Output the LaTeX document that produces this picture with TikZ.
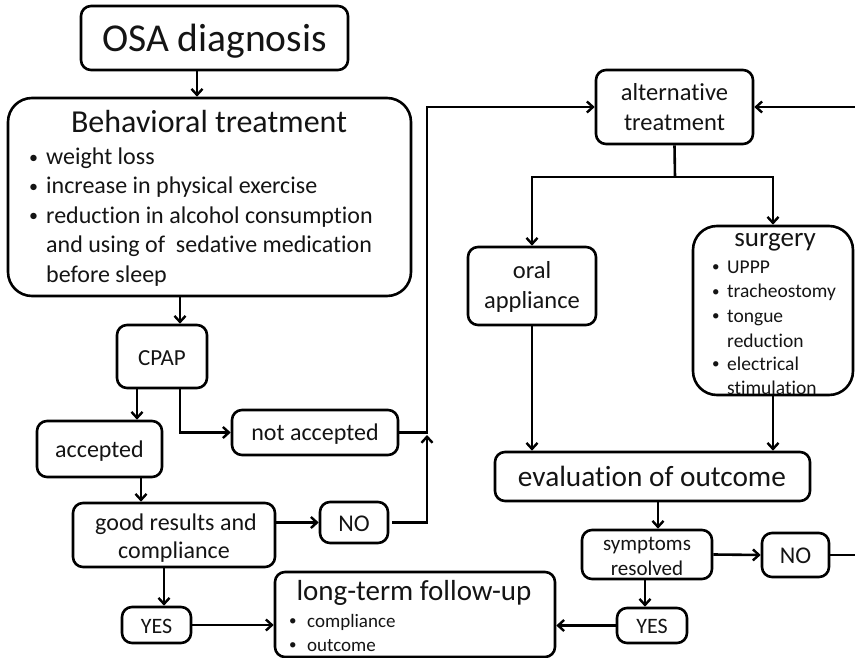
\documentclass[tikz,border=0pt]{standalone}
\usepackage{fontspec}
\setmainfont{Carlito}[Ligatures=NoCommon]
\usetikzlibrary{arrows.meta,calc}
\newcommand{\fz}[1]{\fontsize{#1}{#1}\selectfont}
\tikzset{
  box/.style={draw, line width=2.6pt, rounded corners=10pt, inner sep=0pt, anchor=center},
  bigbox/.style={box, rounded corners=24pt},
  ln/.style={line width=2.6pt},
  arr/.style={line width=2.6pt, -{Straight Barb[length=6pt,width=11pt,line width=2.4pt]}},
  txt/.style={anchor=base, inner sep=0pt, text=black!92},
  lft/.style={anchor=base west, inner sep=0pt, text=black!92},
}
% name, x bullet, x text, baseline, size, bullet size, text
\newcommand{\bul}[7]{\node[lft,font=\fz{#6},yshift=1.8pt] (#1d) at (#2,#4) {•};\node[lft,font=\fz{#5}] (#1) at (#3,#4) {#7};}
\begin{document}
\begin{tikzpicture}[x=1pt,y=-1pt]
\useasboundingbox (0,0) rectangle (855,658);
\clip (0,0) rectangle (855,658);
% helper x positions
\coordinate (x197) at (197,0);
\coordinate (x180) at (180,0);
\coordinate (x137) at (137,0);
\coordinate (x141) at (141,0);
\coordinate (x164) at (164,0);
\coordinate (x658) at (658,0);
\coordinate (x645) at (645,0);
\coordinate (vline) at (427,0);
\coordinate (re) at (862,0);
\coordinate (br) at (675,177);

% ---------- boxes ----------
\node[box, minimum width=267, minimum height=64] (osa) at (214.5,38) {};
\node[txt, font=\fz{39.5}] (osat) at (214.5,52) {OSA diagnosis};

\node[bigbox, minimum width=403, minimum height=198] (beh) at (209.5,197) {};
\node[txt, font=\fz{32}] (beht) at (209,133) {Behavioral treatment};
\bul{b1}{29}{46}{165}{24}{18}{weight loss}
\bul{b2}{29}{46}{194}{24}{18}{increase in physical exercise}
\bul{b3}{29}{46}{223}{24}{18}{reduction in alcohol consumption}
\node[lft, font=\fz{24}] (b4) at (46,252) {and using of~ sedative medication};
\node[lft, font=\fz{24}] (b5) at (46,282) {before sleep};

\node[box, minimum width=90, minimum height=63] (cpap) at (162,356.5) {};
\node[txt, font=\fz{23}] (cpapt) at (162,365) {CPAP};

\node[box, minimum width=125, minimum height=56] (acc) at (99.5,449) {};
\node[txt, font=\fz{24}] (acct) at (99.5,457) {accepted};

\node[box, minimum width=166, minimum height=45] (nacc) at (315,432.5) {};
\node[txt, font=\fz{24}] (nacct) at (315,440) {not accepted};

\node[box, minimum width=202, minimum height=64] (good) at (174,535) {};
\node[txt, font=\fz{24}] (goodt1) at (176,530) {good results and};
\node[txt, font=\fz{24}] (goodt2) at (174,558) {compliance};

\node[box, minimum width=68, minimum height=41] (no1) at (354,522.5) {};
\node[txt, font=\fz{24}] (no1t) at (354,531) {NO};

\node[box, minimum width=69, minimum height=36] (yes1) at (156.5,625) {};
\node[txt, font=\fz{22}] (yes1t) at (156.5,633) {YES};

\node[box, minimum width=280, minimum height=85] (lt) at (415,614.5) {};
\node[txt, font=\fz{29}] (ltt) at (414,600) {long-term follow-up};
\bul{l1}{289}{307}{627}{19}{15}{compliance}
\bul{l2}{289}{307}{651}{19}{15}{outcome}

\node[box, minimum width=157, minimum height=74] (alt) at (674.5,107) {};
\node[txt, font=\fz{24.5}] (altt1) at (674.5,101) {alternative};
\node[txt, font=\fz{24.5}] (altt2) at (674.5,131) {treatment};

\node[box, minimum width=128, minimum height=78] (oral) at (532,286) {};
\node[txt, font=\fz{24.5}] (oralt1) at (532,278) {oral};
\node[txt, font=\fz{24.5}] (oralt2) at (532,308) {appliance};

\node[bigbox, minimum width=160, minimum height=169] (surg) at (773,310.5) {};
\node[txt, font=\fz{27}] (surgt) at (775,247) {surgery};
\bul{s1}{712}{727}{273}{19.5}{15}{UPPP}
\bul{s2}{712}{727}{298}{19.5}{15}{tracheostomy}
\bul{s3}{712}{727}{322}{19.5}{15}{tongue}
\node[lft, font=\fz{19.5}] (s4) at (727,347) {reduction};
\bul{s5}{712}{727}{370}{19.5}{15}{electrical}
\node[lft, font=\fz{19.5}] (s6) at (727,394) {stimulation};

\node[box, minimum width=315, minimum height=49] (eval) at (652.5,476.5) {};
\node[txt, font=\fz{29.3}] (evalt) at (652,486) {evaluation of outcome};

\node[box, minimum width=130, minimum height=49] (symp) at (647,554.5) {};
\node[txt, font=\fz{21}] (sympt1) at (647,550) {symptoms};
\node[txt, font=\fz{21}] (sympt2) at (647,575) {resolved};

\node[box, minimum width=67, minimum height=44] (no2) at (795.5,555) {};
\node[txt, font=\fz{24}] (no2t) at (795.5,563) {NO};

\node[box, minimum width=70, minimum height=35] (yes2) at (652,625.5) {};
\node[txt, font=\fz{22}] (yes2t) at (652,633) {YES};

% ---------- connectors ----------
\draw[arr] (osa.south -| x197) -- (beh.north -| x197);
\draw[arr] (beh.south -| x180) -- (cpap.north -| x180);
\draw[arr] (cpap.south -| x137) -- (acc.north -| x137);
\draw[arr] (cpap.south -| x180) |- (nacc.west);
\draw[arr] (nacc.east) -- (nacc.east -| vline) |- (alt.west);
\draw[arr] (acc.south -| x141) -- (good.north -| x141);
\draw[arr] (good.east |- no1.west) -- (no1.west);
\draw[arr, shorten <=3pt] (no1.east) -- (no1.east -| vline) -- ($(nacc.east -| vline)+(0,2.5)$);
\draw[arr] (good.south -| x164) -- (yes1.north -| x164);
\draw[arr] (yes1.east) -- (yes1.east -| lt.west);
\draw[ln] (br) -- (alt.south);
\draw[arr] (br) -| (oral.north);
\draw[arr] (br) -| (surg.north);
\draw[arr] (oral.south) -- (oral.south |- eval.north);
\draw[arr] (surg.south) -- (surg.south |- eval.north);
\draw[arr] (eval.south -| x658) -- (symp.north -| x658);
\draw[arr] (symp.east) -- (no2.west);
\draw[arr] (symp.south -| x645) -- (yes2.north -| x645);
\draw[arr] (yes2.west) -- (yes2.west -| lt.east);
\draw[arr] (no2.east) -- (no2.east -| re) -- (alt.east -| re) -- (alt.east);
\end{tikzpicture}
\end{document}
